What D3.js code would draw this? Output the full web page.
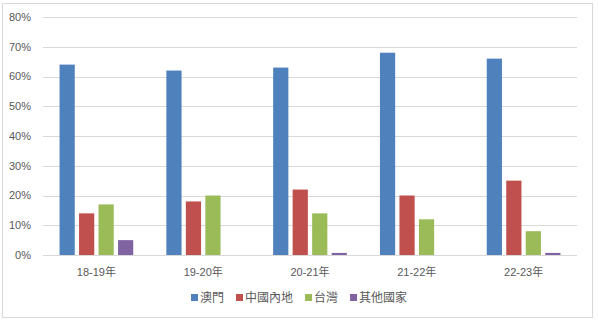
<!DOCTYPE html>
<html>
<head>
<meta charset="utf-8">
<script src="https://cdn.jsdelivr.net/npm/d3@7"></script>
<style>
  html, body { margin: 0; padding: 0; background: #fff; }
  svg { display: block; }
</style>
</head>
<body>
<svg width="598" height="322"></svg>
<script>
const years = ["18-19年", "19-20年", "20-21年", "21-22年", "22-23年"];
const seriesNames = ["澳門", "中國內地", "台灣", "其他國家"];
const macau = [64, 62, 63, 68, 66];
const mainland = [14, 18, 22, 20, 25];
const taiwan = [17, 20, 14, 12, 8];
const others = [5, 0, 0.7, 0, 0.7];
const yTicks = [0, 10, 20, 30, 40, 50, 60, 70, 80];
const colors = ["#4f81bd", "#c0504d", "#9bbb59", "#8064a2"];

const seriesValues = [macau, mainland, taiwan, others];
const rows = years.map((y, i) => ({
  year: y,
  values: seriesNames.map((s, j) => ({ key: s, value: seriesValues[j][i], color: colors[j] }))
}));

const svg = d3.select("svg");
const font = "'Liberation Sans', 'Noto Sans CJK TC', sans-serif";
const textColor = "#595959";

// outer frame
svg.append("rect")
  .attr("x", 2.5).attr("y", 3.5)
  .attr("width", 590).attr("height", 314)
  .attr("fill", "#fff")
  .attr("stroke", "#d9d9d9");

const plot = { left: 43, right: 577, top: 17, bottom: 255 };

const x0 = d3.scaleBand()
  .domain(years)
  .range([plot.left, plot.right])
  .paddingInner(0.31)
  .paddingOuter(0.155);

const x1 = d3.scaleBand()
  .domain(seriesNames)
  .range([0, x0.bandwidth()])
  .paddingInner(0.22);

const y = d3.scaleLinear()
  .domain([0, 80])
  .range([plot.bottom, plot.top]);

// gridlines
svg.append("g")
  .selectAll("line")
  .data(yTicks)
  .join("line")
  .attr("x1", plot.left).attr("x2", plot.right)
  .attr("y1", d => Math.round(y(d)) + 0.5)
  .attr("y2", d => Math.round(y(d)) + 0.5)
  .attr("stroke", "#d9d9d9")
  .attr("stroke-width", 1);

// y labels
svg.append("g")
  .selectAll("text")
  .data(yTicks)
  .join("text")
  .attr("x", 31)
  .attr("y", d => y(d))
  .attr("dy", "0.35em")
  .attr("text-anchor", "end")
  .attr("font-family", font)
  .attr("font-size", "11px")
  .attr("fill", textColor)
  .text(d => d + "%");

// bars
svg.append("g")
  .selectAll("g")
  .data(rows)
  .join("g")
  .attr("transform", d => `translate(${x0(d.year)},0)`)
  .selectAll("rect")
  .data(d => d.values)
  .join("rect")
  .attr("x", d => x1(d.key))
  .attr("y", d => y(d.value))
  .attr("width", x1.bandwidth())
  .attr("height", d => y(0) - y(d.value))
  .attr("fill", d => d.color);

// x labels
svg.append("g")
  .selectAll("text")
  .data(years)
  .join("text")
  .attr("x", d => x0(d) + x0.bandwidth() / 2)
  .attr("y", 272)
  .attr("dy", "0.35em")
  .attr("text-anchor", "middle")
  .attr("font-family", font)
  .attr("font-size", "11px")
  .attr("fill", textColor)
  .text(d => d);

// legend
const legend = svg.append("g");
let lx = 191;
seriesNames.forEach((name, i) => {
  const item = legend.append("g").attr("transform", `translate(${lx},294)`);
  item.append("rect")
    .attr("width", 7).attr("height", 7)
    .attr("fill", colors[i]);
  const t = item.append("text")
    .attr("x", 9)
    .attr("y", 3.5)
    .attr("dy", "0.35em")
    .attr("font-family", font)
    .attr("font-size", "12px")
    .attr("fill", textColor)
    .text(name);
  lx += 9 + t.node().getComputedTextLength() + 12;
});
</script>
</body>
</html>
